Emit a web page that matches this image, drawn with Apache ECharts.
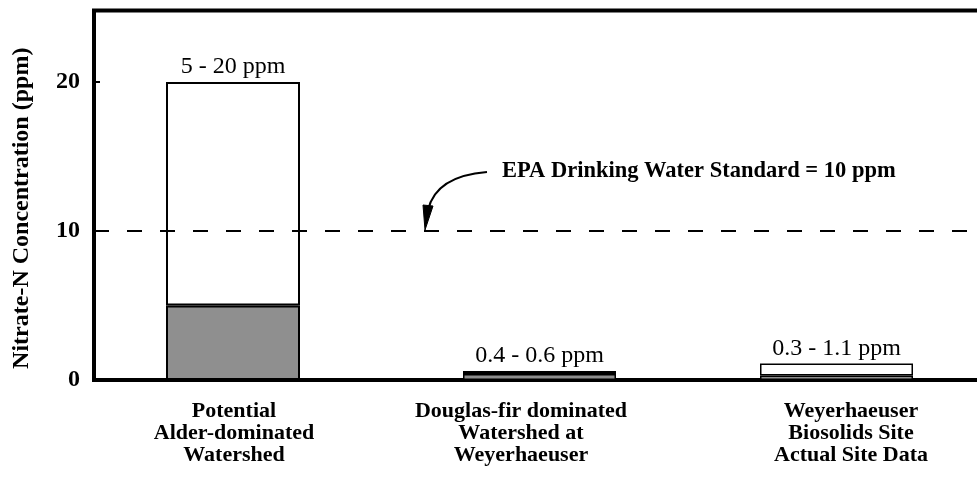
<!DOCTYPE html>
<html>
<head>
<meta charset="utf-8">
<script src="https://cdn.jsdelivr.net/npm/echarts@6/dist/echarts.min.js"></script>
<style>
html,body{margin:0;padding:0;background:#fff;}
#chart{width:977px;height:480px;}
</style>
</head>
<body>
<div id="chart"></div>
<script>
const categories = [
  'Potential\nAlder-dominated\nWatershed',
  'Douglas-fir dominated\nWatershed at\nWeyerhaeuser',
  'Weyerhaeuser\nBiosolids Site\nActual Site Data'
];
const lowValues = [5, 0.4, 0.3];
const highValues = [20, 0.6, 1.1];
const rangeLabels = ['5 - 20 ppm', '0.4 - 0.6 ppm', '0.3 - 1.1 ppm'];
const standardValue = 10;
const standardText = 'EPA Drinking Water Standard = 10 ppm';
const yAxisTitle = 'Nitrate-N Concentration (ppm)';
const yMax = 24.8;
const yInterval = 10;

const serif = "'Liberation Serif', 'Times New Roman', serif";
const catPads = [[0,17,0,0],[0,37,0,0],[0,0,0,29]];

const chart = echarts.init(document.getElementById('chart'), null, {renderer: 'canvas'});

function pick(arr, idxs) { return arr.map((v, i) => idxs.indexOf(i) >= 0 ? v : '-'); }
const diffs = highValues.map((h, i) => +(h - lowValues[i]).toFixed(3));

const barStyleGray = {color: '#8f8f8f', borderColor: '#000', borderWidth: 2};
const barStyleWhite = {color: '#fff', borderColor: '#000', borderWidth: 2};
const smallGray = {color: '#8f8f8f', borderColor: '#000', borderWidth: 1.5};
const smallWhite = {color: '#fff', borderColor: '#000', borderWidth: 1.5};
const topLabel = {
  show: true, position: 'top', distance: 3,
  color: '#000', fontFamily: serif, fontSize: 24,
  formatter: p => rangeLabels[p.dataIndex]
};

const option = {
  animation: false,
  backgroundColor: '#fff',
  grid: {
    left: 94, right: -8, top: 10.5, bottom: 100,
    outerBoundsMode: 'none', containLabel: false,
    show: true, borderColor: '#000', borderWidth: 4, backgroundColor: 'transparent'
  },
  xAxis: {
    type: 'category',
    data: categories.map((c, i) => ({value: c, textStyle: {padding: catPads[i]}})),
    axisLine: {show: false},
    axisTick: {show: false},
    axisLabel: {
      color: '#000', fontFamily: serif, fontWeight: 'bold', fontSize: 22,
      lineHeight: 22, margin: 20, interval: 0
    }
  },
  yAxis: {
    type: 'value', min: 0, max: yMax, interval: yInterval,
    name: yAxisTitle, nameLocation: 'middle', nameRotate: 90, nameGap: 60,
    nameTextStyle: {color: '#000', fontFamily: serif, fontWeight: 'bold', fontSize: 24, padding: [0, 26, 0, 0]},
    axisLine: {show: false},
    axisTick: {show: true, inside: true, length: 6, lineStyle: {color: '#000', width: 2}},
    splitLine: {show: false},
    axisLabel: {
      color: '#000', fontFamily: serif, fontWeight: 'bold', fontSize: 24, margin: 14,
      showMaxLabel: false
    }
  },
  series: [
    {
      type: 'line', data: [], z: 1, silent: true,
      markLine: {
        silent: true, symbol: ['none', 'none'],
        label: {show: false},
        lineStyle: {color: '#000', width: 2, type: [15, 18]},
        data: [{yAxis: standardValue}]
      }
    },
    {type: 'bar', stack: 'a', barWidth: 134, barGap: '-100%', data: pick(lowValues, [0]), itemStyle: barStyleGray},
    {type: 'bar', stack: 'a', barWidth: 134, barGap: '-100%', data: pick(diffs, [0]), itemStyle: barStyleWhite, label: topLabel},
    {type: 'bar', stack: 'b', barWidth: 153, barGap: '-100%', data: pick(lowValues, [1, 2]), itemStyle: smallGray},
    {type: 'bar', stack: 'b', barWidth: 153, barGap: '-100%', data: pick(diffs, [1, 2]), itemStyle: smallWhite, label: topLabel}
  ],
  graphic: [
    {
      type: 'text', left: 502, top: 160,
      style: {text: standardText, fill: '#000', font: "bold 22.5px 'Liberation Serif', 'Times New Roman', serif"}
    },
    {
      type: 'bezierCurve', z: 10,
      shape: {x1: 487, y1: 172, cpx1: 436, cpy1: 176, x2: 428, y2: 210},
      style: {stroke: '#000', lineWidth: 2, fill: null}
    },
    {
      type: 'polygon', z: 10,
      shape: {points: [[425, 230], [433, 206], [423, 205]]},
      style: {fill: '#000', stroke: '#000', lineWidth: 1}
    }
  ]
};
chart.setOption(option);
</script>
</body>
</html>
